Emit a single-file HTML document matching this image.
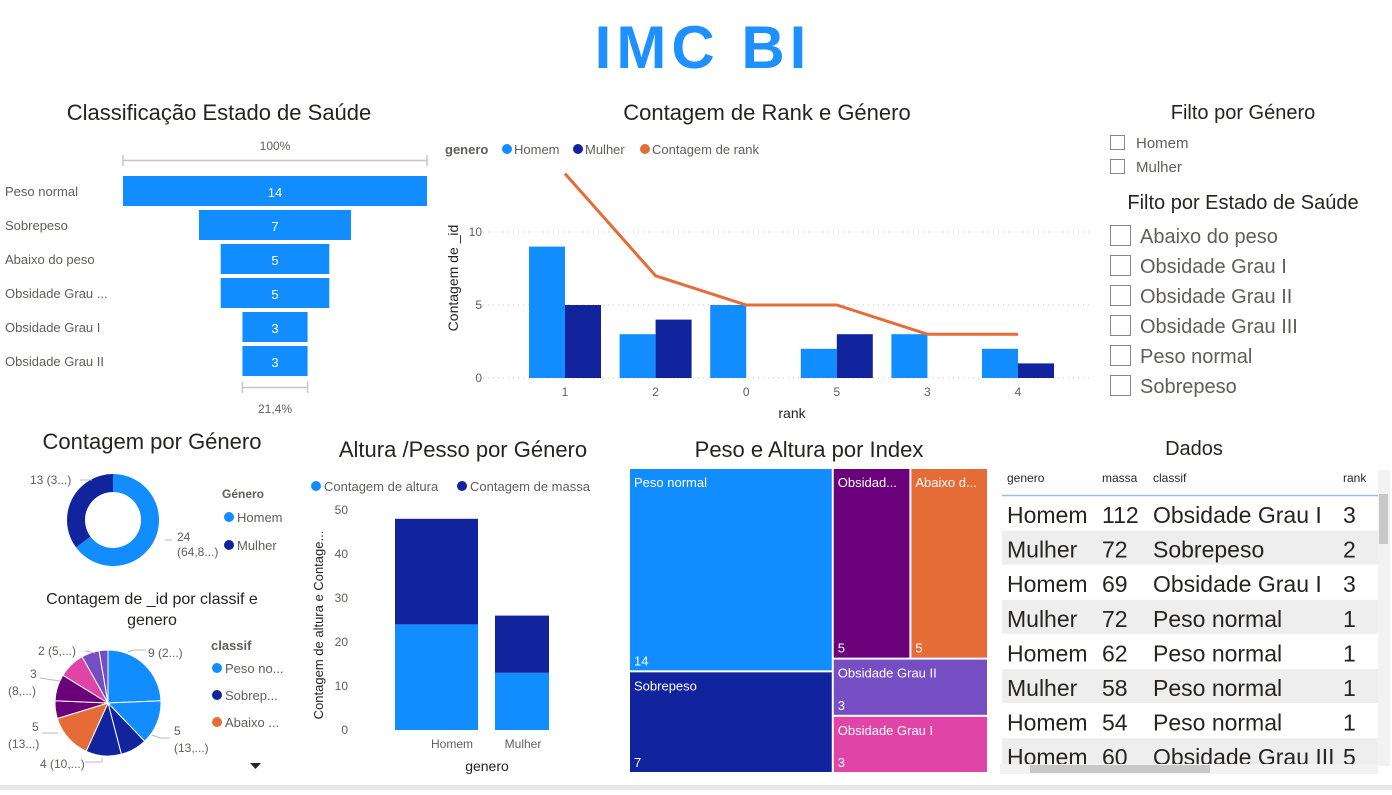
<!DOCTYPE html>
<html><head><meta charset="utf-8"><style>
body{margin:0;background:#fff;width:1392px;height:790px;overflow:hidden;font-family:"Liberation Sans",sans-serif}
svg text{font-family:"Liberation Sans",sans-serif}
</style></head><body>
<svg id="s" width="1392" height="790" xmlns="http://www.w3.org/2000/svg">
<text x="703" y="68" text-anchor="middle" font-size="60" font-weight="bold" letter-spacing="5" fill="#1E90FF">IMC BI</text>
<text x="219" y="120" text-anchor="middle" font-size="22" fill="#252423">Classificação Estado de Saúde</text>
<text x="767" y="120" text-anchor="middle" font-size="22" fill="#252423">Contagem de Rank e Género</text>
<text x="152" y="449" text-anchor="middle" font-size="22" fill="#252423">Contagem por Género</text>
<text x="463" y="457" text-anchor="middle" font-size="22" fill="#252423">Altura /Pesso por Género</text>
<text x="809" y="457" text-anchor="middle" font-size="22" fill="#252423">Peso e Altura por Index</text>
<text x="1194" y="455" text-anchor="middle" font-size="20" fill="#252423">Dados</text>
<text x="152" y="604" text-anchor="middle" font-size="16" fill="#252423">Contagem de _id por classif e</text>
<text x="152" y="625" text-anchor="middle" font-size="16" fill="#252423">genero</text>
<g id="funnel"></g>
<g id="combo"></g>
<g id="donut"></g>
<g id="pie"></g>
<g id="stack"></g>
<g id="tree"></g>
<g id="slicers"></g>
<g id="table"></g>
</svg>
<script>
const NS="http://www.w3.org/2000/svg";
function mk(p,t,a,txt){const e=document.createElementNS(NS,t);for(const k in a)e.setAttribute(k,a[k]);if(txt!==undefined)e.textContent=txt;p.appendChild(e);return e;}
const LB="#118DFF",DB="#12239E",OR="#E66C37",PU="#6B007B",VI="#744EC2",PK="#E044A7";

const funnelCats=["Peso normal","Sobrepeso","Abaixo do peso","Obsidade Grau ...","Obsidade Grau I","Obsidade Grau II"];
const funnelVals=[14,7,5,5,3,3];
const rankCats=["1","2","0","5","3","4"];
const homemVals=[9,3,5,2,3,2];
const mulherVals=[5,4,0,3,0,1];
const rankCount=[14,7,5,5,3,3];
const comboTicks=[0,5,10];
const donutCats=["Homem","Mulher"];
const donutVals=[24,13];
const pieVals=[9,5,3,4,5,2,3,3,2,1];
const pieColors=[LB,LB,DB,DB,OR,PU,PU,PK,VI,VI];
const stackCats=["Homem","Mulher"];
const alturaVals=[24,13];
const massaVals=[24,13];
const stackTicks=[0,10,20,30,40,50];
const treeCats=["Peso normal","Sobrepeso","Obsidad...","Abaixo d...","Obsidade Grau II","Obsidade Grau I"];
const treeVals=[14,7,5,5,3,3];
const tableRows=[["Homem","112","Obsidade Grau I","3"],["Mulher","72","Sobrepeso","2"],["Homem","69","Obsidade Grau I","3"],["Mulher","72","Peso normal","1"],["Homem","62","Peso normal","1"],["Mulher","58","Peso normal","1"],["Homem","54","Peso normal","1"],["Homem","60","Obsidade Grau III","5"]];

(function(){const g=document.getElementById('funnel');const max=Math.max(...funnelVals);const W=304,cx=275;
mk(g,'text',{x:cx,y:150,'text-anchor':'middle','font-size':12,fill:'#605E5C'},'100%');
mk(g,'path',{d:`M123 155V166M123 160.5H427M427 155V166`,stroke:'#C8C6C4','stroke-width':1.5,fill:'none'});
funnelVals.forEach((v,i)=>{const w=W*v/max,y=176+i*34;
const t=mk(g,'text',{x:5,y:y+20,'font-size':13,fill:'#605E5C'},funnelCats[i]);


const r=mk(g,'rect',{x:cx-w/2,y:y,width:w,height:30,fill:LB});


mk(g,'text',{x:cx,y:y+21,'text-anchor':'middle','font-size':13,fill:'#fff'},v);});
const lw=W*funnelVals[5]/max;
mk(g,'path',{d:`M${cx-lw/2} 382V393M${cx-lw/2} 387.5H${cx+lw/2}M${cx+lw/2} 382V393`,stroke:'#C8C6C4','stroke-width':1.5,fill:'none'});
mk(g,'text',{x:cx,y:413,'text-anchor':'middle','font-size':12,fill:'#605E5C'},(funnelVals[5]/max*100).toFixed(1).replace('.',',')+'%');})();

(function(){const g=document.getElementById('combo');const y0=378,k=14.6,x0=565,dx=90.6,bw=36;
const Y=v=>y0-v*k,X=i=>x0+i*dx;
mk(g,'text',{x:445,y:154,'font-size':13,'font-weight':'bold',fill:'#605E5C'},'genero');
[[LB,'Homem',507],[DB,'Mulher',578],[OR,'Contagem de rank',645]].forEach(([c,t,x])=>{mk(g,'circle',{cx:x,cy:149,r:5,fill:c});const e=mk(g,'text',{x:x+7,y:154,'font-size':13,fill:'#605E5C'},t);
});
comboTicks.forEach(t=>{mk(g,'line',{x1:478,x2:1090,y1:Y(t),y2:Y(t),stroke:'#C8C6C4','stroke-dasharray':'1 4'});mk(g,'text',{x:482,y:Y(t)+4,'text-anchor':'end','font-size':12,fill:'#605E5C'},t);});
mk(g,'text',{transform:'translate(458,278) rotate(-90)','text-anchor':'middle','font-size':14,fill:'#252423'},'Contagem de _id');
mk(g,'text',{x:792,y:418,'text-anchor':'middle','font-size':14,fill:'#252423'},'rank');
rankCats.forEach((c,i)=>{
const a=mk(g,'rect',{x:X(i)-bw,y:Y(homemVals[i]),width:bw,height:homemVals[i]*k,fill:LB});


const b=mk(g,'rect',{x:X(i),y:Y(mulherVals[i]),width:bw,height:mulherVals[i]*k,fill:DB});


mk(g,'text',{x:X(i),y:396,'text-anchor':'middle','font-size':12,fill:'#605E5C'},c);});
const l=mk(g,'polyline',{points:rankCount.map((v,i)=>X(i)+','+Y(v)).join(' '),fill:'none',stroke:OR,'stroke-width':3});

})();

function arc(cx,cy,r,ri,a0,a1){const p=(a,rr)=>[cx+rr*Math.sin(a),cy-rr*Math.cos(a)];const lg=a1-a0>Math.PI?1:0;
const [x0,y0]=p(a0,r),[x1,y1]=p(a1,r);if(!ri)return `M${cx} ${cy}L${x0} ${y0}A${r} ${r} 0 ${lg} 1 ${x1} ${y1}Z`;
const [x2,y2]=p(a1,ri),[x3,y3]=p(a0,ri);return `M${x0} ${y0}A${r} ${r} 0 ${lg} 1 ${x1} ${y1}L${x2} ${y2}A${ri} ${ri} 0 ${lg} 0 ${x3} ${y3}Z`;}

(function(){const g=document.getElementById('donut');const tot=donutVals.reduce((a,b)=>a+b);let a=0;const cols=[LB,DB];
donutVals.forEach((v,i)=>{const a1=a+v/tot*2*Math.PI;const p=mk(g,'path',{d:arc(113,520,46,28,a,a1),fill:cols[i]});

a=a1;});
mk(g,'text',{x:177,y:541,'font-size':12,fill:'#605E5C'},'24');mk(g,'text',{x:177,y:556,'font-size':12,fill:'#605E5C'},'(64,8...)');
mk(g,'path',{d:'M165 540H172',stroke:'#bbb',fill:'none'});
mk(g,'text',{x:30,y:484,'font-size':12,fill:'#605E5C'},'13 (3...)');mk(g,'path',{d:'M80 480H92',stroke:'#bbb',fill:'none'});
mk(g,'text',{x:222,y:498,'font-size':12,'font-weight':'bold',fill:'#605E5C'},'Género');
donutCats.forEach((c,i)=>{mk(g,'circle',{cx:229,cy:517+i*28,r:5,fill:cols[i]});const e=mk(g,'text',{x:237,y:522+i*28,'font-size':13,fill:'#605E5C'},c);
});})();

(function(){const g=document.getElementById('pie');const tot=pieVals.reduce((a,b)=>a+b);let a=0;
pieVals.forEach((v,i)=>{const a1=a+v/tot*2*Math.PI;const p=mk(g,'path',{d:arc(108,703,53,0,a,a1),fill:pieColors[i],stroke:'#fff','stroke-width':1});

a=a1;});
const L=[[148,657,'9 (2...)'],[174,735,'5'],[174,752,'(13,...)'],[40,768,'4 (10,...)'],[32,731,'5'],[8,748,'(13...)'],[30,678,'3'],[8,695,'(8,...)'],[38,655,'2 (5,...)']];
L.forEach(([x,y,t])=>mk(g,'text',{x,y,'font-size':12,fill:'#605E5C'},t));
mk(g,'path',{d:'M128 652L133 650H146M152 735L160 738H170M85 762H102V758M42 733H58M40 678L60 681M85 651L95 653',stroke:'#bbb',fill:'none'});
mk(g,'text',{x:211,y:650,'font-size':13,'font-weight':'bold',fill:'#605E5C'},'classif');
[[LB,'Peso no...'],[DB,'Sobrep...'],[OR,'Abaixo ...']].forEach(([c,t],i)=>{mk(g,'circle',{cx:217,cy:668+i*27,r:5,fill:c});const e=mk(g,'text',{x:225,y:673+i*27,'font-size':13,fill:'#605E5C'},t);
});
mk(g,'path',{d:'M250 763H261L255.5 769Z',fill:'#252423'});})();

(function(){const g=document.getElementById('stack');const y0=730,k=4.4;const Y=v=>y0-v*k;const xs=[[395,83],[495,54]];
[[LB,'Contagem de altura',316],[DB,'Contagem de massa',462]].forEach(([c,t,x])=>{mk(g,'circle',{cx:x,cy:486,r:5,fill:c});const e=mk(g,'text',{x:x+8,y:491,'font-size':13,fill:'#605E5C'},t);
});
stackTicks.forEach(t=>mk(g,'text',{x:348,y:Y(t)+4,'text-anchor':'end','font-size':12,fill:'#605E5C'},t));
mk(g,'text',{transform:'translate(323,625) rotate(-90)','text-anchor':'middle','font-size':13,fill:'#252423'},'Contagem de altura e Contage...');
stackCats.forEach((c,i)=>{const [x,w]=xs[i];
const a=mk(g,'rect',{x,y:Y(alturaVals[i]),width:w,height:alturaVals[i]*k,fill:LB});


const b=mk(g,'rect',{x,y:Y(alturaVals[i]+massaVals[i]),width:w,height:massaVals[i]*k,fill:DB});


mk(g,'text',{x:i?523:452,y:748,'text-anchor':'middle','font-size':12,fill:'#605E5C'},c);});
mk(g,'text',{x:487,y:771,'text-anchor':'middle','font-size':14,fill:'#252423'},'genero');})();

(function(){const g=document.getElementById('tree');const X0=629,Y0=468,W=359,H=305;const tot=treeVals.reduce((a,b)=>a+b);
const cols=[LB,DB,PU,OR,VI,PK];const rects=[];
const c1=(treeVals[0]+treeVals[1])/tot*W;
rects.push([X0,Y0,c1,H*treeVals[0]/(treeVals[0]+treeVals[1])]);
rects.push([X0,Y0+rects[0][3],c1,H-rects[0][3]]);
const rest=treeVals.slice(2).reduce((a,b)=>a+b);const w2=W-c1;
const top=(treeVals[2]+treeVals[3])/rest*H;
rects.push([X0+c1,Y0,w2*treeVals[2]/(treeVals[2]+treeVals[3]),top]);
rects.push([X0+c1+rects[2][2],Y0,w2-rects[2][2],top]);
const bh=H-top;rects.push([X0+c1,Y0+top,w2,bh*treeVals[4]/(treeVals[4]+treeVals[5])]);
rects.push([X0+c1,Y0+top+rects[4][3],w2,bh-rects[4][3]]);
rects.forEach(([x,y,w,h],i)=>{const r=mk(g,'rect',{x:x+1,y:y+1,width:w-2,height:h-2,fill:cols[i]});


mk(g,'text',{x:x+5,y:y+19,'font-size':13,fill:'#fff'},treeCats[i]);
mk(g,'text',{x:x+5,y:y+h-6,'font-size':13,fill:'#fff'},treeVals[i]);});})();

(function(){const g=document.getElementById('slicers');
mk(g,'text',{x:1243,y:119,'text-anchor':'middle','font-size':20,fill:'#252423'},'Filto por Género');
['Homem','Mulher'].forEach((t,i)=>{const r=mk(g,'rect',{x:1110.5,y:135.5+i*24,width:14,height:14,fill:'#fff',stroke:'#8a8886'});
mk(g,'text',{x:1136,y:148+i*24,'font-size':15,fill:'#605E5C'},t);});
mk(g,'text',{x:1243,y:209,'text-anchor':'middle','font-size':20,fill:'#252423'},'Filto por Estado de Saúde');
['Abaixo do peso','Obsidade Grau I','Obsidade Grau II','Obsidade Grau III','Peso normal','Sobrepeso'].forEach((t,i)=>{const r=mk(g,'rect',{x:1110.5,y:225.5+i*30,width:20,height:20,fill:'#fff',stroke:'#8a8886'});
mk(g,'text',{x:1140,y:243+i*30,'font-size':20,fill:'#605E5C'},t);});})();

(function(){const g=document.getElementById('table');const cx=[1007,1102,1153,1343];
['genero','massa','classif','rank'].forEach((h,i)=>mk(g,'text',{x:cx[i],y:482,'font-size':12,fill:'#252423'},h));
mk(g,'line',{x1:1002,x2:1378,y1:495.5,y2:495.5,stroke:'#8fc3f5','stroke-width':1.5});
tableRows.forEach((r,j)=>{const y=496+j*34.6;if(j%2){mk(g,'rect',{x:1002,y,width:376,height:34,fill:'#EEEEEE'});}
r.forEach((c,i)=>mk(g,'text',{x:cx[i],y:y+27,'font-size':23,fill:'#252423'},c));});
mk(g,'rect',{x:1378,y:470,width:12,height:296,fill:'#f2f2f2'});mk(g,'rect',{x:1379,y:494,width:9,height:50,fill:'#c8c8c8'});
mk(g,'rect',{x:1000,y:764,width:378,height:10,fill:'#f2f2f2'});mk(g,'rect',{x:1030,y:765,width:180,height:8,fill:'#c8c8c8'});
mk(g,'rect',{x:0,y:785,width:1392,height:5,fill:'#e8e8e8'});})();
</script>
</body></html>
